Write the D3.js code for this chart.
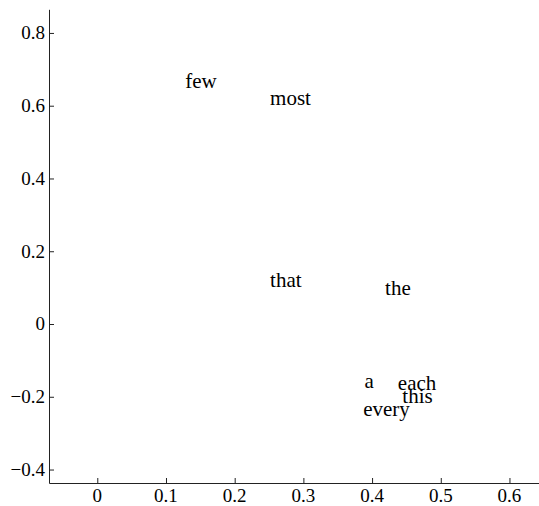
<!DOCTYPE html>
<html>
<head>
<meta charset="utf-8">
<script src="https://cdn.jsdelivr.net/npm/d3@7"></script>
</head>
<body style="margin:0">
<svg id="chart" width="539" height="506" style="font-family:'Liberation Serif','Times New Roman',Tinos,'Nimbus Roman'"></svg>
<script>
const words = ["few", "most", "that", "the", "a", "each", "this", "every"];
const xValues = [0.128, 0.2515, 0.2515, 0.419, 0.389, 0.4375, 0.444, 0.387];
const yValues = [0.667, 0.621, 0.1215, 0.0987, -0.158, -0.164, -0.199, -0.234];
const xTicks = [0, 0.1, 0.2, 0.3, 0.4, 0.5, 0.6];
const xTickLabels = ["0", "0.1", "0.2", "0.3", "0.4", "0.5", "0.6"];
const yTicks = [-0.4, -0.2, 0, 0.2, 0.4, 0.6, 0.8];
const yTickLabels = ["\u22120.4", "\u22120.2", "0", "0.2", "0.4", "0.6", "0.8"];
const xDomain = [-0.0703, 0.643];
const yDomain = [-0.437, 0.865];
const FONT = "'Liberation Serif', 'Times New Roman', Tinos, 'Nimbus Roman'";

const svg = d3.select("#chart");
const x = d3.scaleLinear().domain(xDomain).range([49, 539]);
const y = d3.scaleLinear().domain(yDomain).range([483, 9.3]);

// tick marks and axis lines via d3 axes, without their labels
const xAxis = d3.axisBottom(x).tickValues(xTicks).tickFormat("")
  .tickSizeInner(-5).tickSizeOuter(0);
const yAxis = d3.axisLeft(y).tickValues(yTicks).tickFormat("")
  .tickSizeInner(-5).tickSizeOuter(0);
const gx = svg.append("g").attr("transform", `translate(0,${y.range()[0]})`).call(xAxis);
const gy = svg.append("g").attr("transform", `translate(${x.range()[0]},0)`).call(yAxis);
[gx, gy].forEach(g => {
  g.selectAll("path, line").attr("stroke", "#222").attr("stroke-width", 1);
  g.selectAll("text").remove();
});

// tick labels
svg.append("g").selectAll("text").data(xTicks).join("text")
  .attr("x", d => x(d))
  .attr("y", y.range()[0] + 19)
  .attr("text-anchor", "middle")
  .style("font-family", FONT)
  .attr("font-size", 19)
  .text((d, i) => xTickLabels[i]);
svg.append("g").selectAll("text").data(yTicks).join("text")
  .attr("x", x.range()[0] - 4)
  .attr("y", d => y(d))
  .attr("dy", "0.33em")
  .attr("text-anchor", "end")
  .style("font-family", FONT)
  .attr("font-size", 19)
  .text((d, i) => yTickLabels[i]);

svg.append("g").selectAll("text")
  .data(words)
  .join("text")
  .attr("x", (d, i) => x(xValues[i]))
  .attr("y", (d, i) => y(yValues[i]))
  .attr("dy", "0.32em")
  .attr("text-anchor", "start")
  .style("font-family", FONT)
  .attr("font-size", 21)
  .text(d => d);
</script>
</body>
</html>
